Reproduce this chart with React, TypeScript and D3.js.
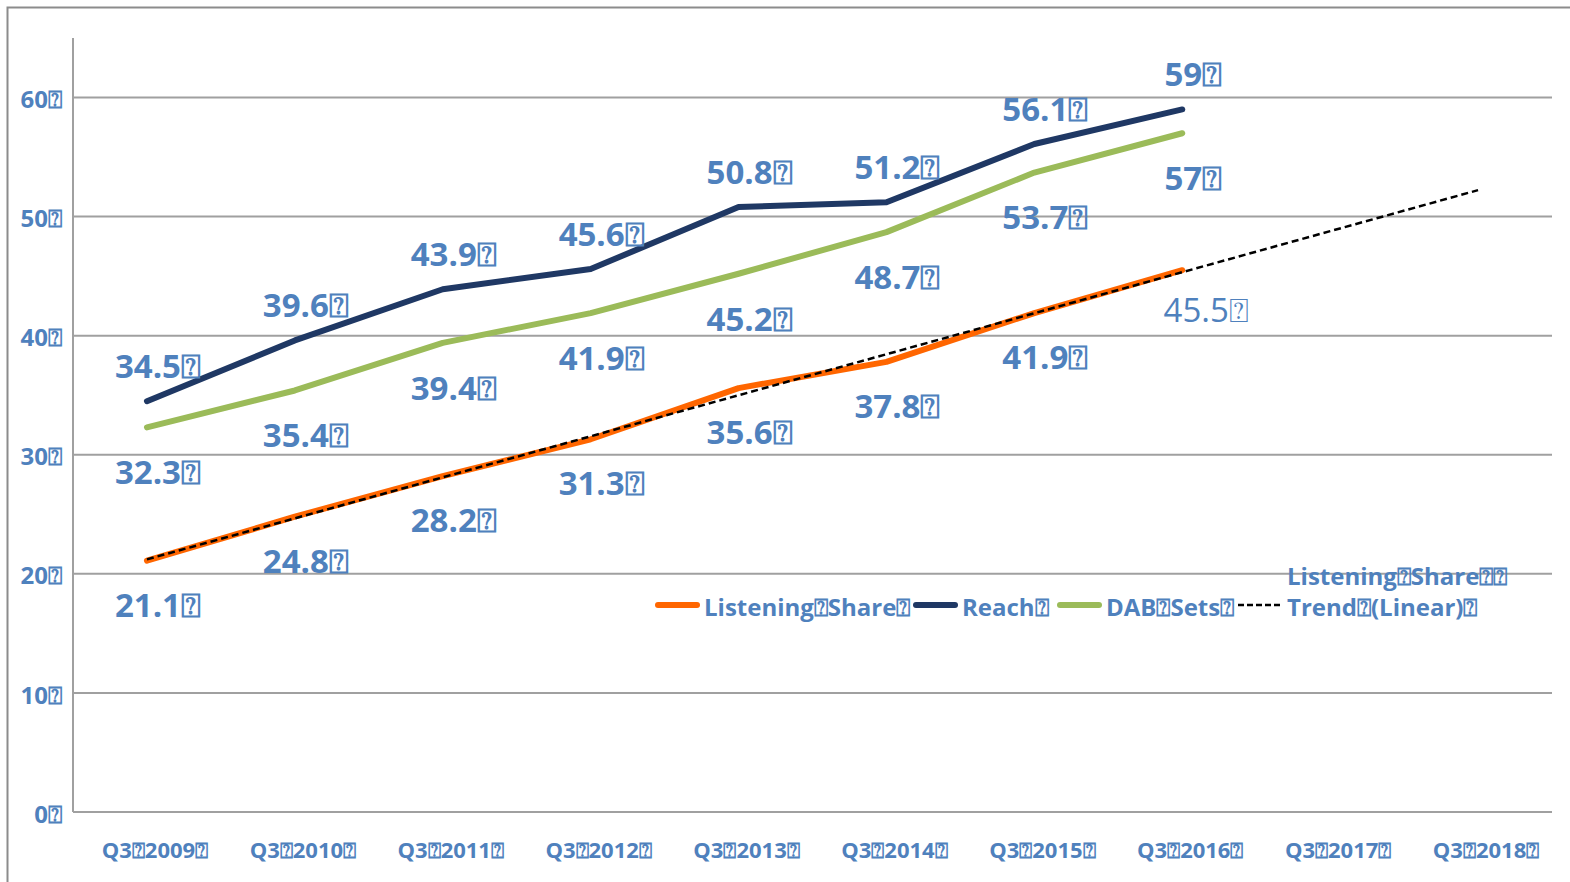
import React from 'react';
import * as d3 from 'd3';

const Q = '\u2370';

const categories = ['2009', '2010', '2011', '2012', '2013', '2014', '2015', '2016', '2017', '2018'];
const listeningShare = [21.1, 24.8, 28.2, 31.3, 35.6, 37.8, 41.9, 45.5];
const reach = [34.5, 39.6, 43.9, 45.6, 50.8, 51.2, 56.1, 59];
const dabSets = [32.3, 35.4, 39.4, 41.9, 45.2, 48.7, 53.7, 57];
const yTicks = [0, 10, 20, 30, 40, 50, 60];

const BLUE = '#4F81BD';
const FONT = '"Open Sans", sans-serif';

// linear least squares on listening share, extended over all categories
function trend(vals: number[]) {
  const mx = d3.mean(vals.map((_, i) => i)) as number;
  const my = d3.mean(vals) as number;
  let sxy = 0;
  let sxx = 0;
  vals.forEach((v, i) => {
    sxy += (i - mx) * (v - my);
    sxx += (i - mx) * (i - mx);
  });
  const slope = sxy / sxx;
  return categories.map((_, i) => my + slope * (i - mx));
}

export default function App() {
  const W = 1570;
  const H = 882;
  const left = 73;
  const right = 1552;
  const top = 38;
  const bottom = 812;

  const x = d3.scaleBand<string>().domain(categories).range([left, right]);
  const cx = (i: number) => (x(categories[i]) as number) + x.bandwidth() / 2;
  const y = d3.scaleLinear().domain([0, 65]).range([bottom, top]);

  const line = d3
    .line<number>()
    .x((_, i) => cx(i))
    .y((d) => y(d));

  const trendVals = trend(listeningShare);

  const series = [
    { name: 'Reach', vals: reach, color: '#1F3864', dy: -35 },
    { name: 'DAB Sets', vals: dabSets, color: '#9BBB59', dy: 45 },
    { name: 'Listening Share', vals: listeningShare, color: '#FF6600', dy: 44 },
  ];

  const legend = [
    { x0: 655, color: '#FF6600', text: `Listening${Q}Share${Q}` },
    { x0: 913, color: '#1F3864', text: `Reach${Q}` },
    { x0: 1057, color: '#9BBB59', text: `DAB${Q}Sets${Q}` },
  ];

  return (
    <svg
      width={W}
      height={H}
      style={{ position: 'absolute', left: 0, top: 0, background: '#fff' }}
      fontFamily={FONT}
    >
      <rect x={7.5} y={7.5} width={W} height={H} fill="none" stroke="#8c8c8c" strokeWidth={2} />

      {yTicks.map((t) => (
        <g key={t}>
          <line x1={left} x2={right} y1={y(t)} y2={y(t)} stroke="#a0a0a0" strokeWidth={2} />
          <text
            x={62}
            y={y(t) + 2}
            dy="0.36em"
            textAnchor="end"
            fontSize={24}
            fontWeight={700}
            fill={BLUE}
          >
            {`${t}${Q}`}
          </text>
        </g>
      ))}
      <line x1={left} x2={left} y1={top} y2={bottom} stroke="#a0a0a0" strokeWidth={2} />

      {categories.map((c, i) => (
        <text
          key={c}
          x={cx(i) + 8}
          y={850}
          dy="0.36em"
          textAnchor="middle"
          fontSize={22}
          fontWeight={700}
          fill={BLUE}
        >
          {`Q3${Q}${c}${Q}`}
        </text>
      ))}

      {series.map((s) => (
        <path
          key={s.name}
          d={line(s.vals) as string}
          fill="none"
          stroke={s.color}
          strokeWidth={6}
          strokeLinecap="round"
          strokeLinejoin="round"
        />
      ))}

      <path
        d={line(trendVals) as string}
        fill="none"
        stroke="#000"
        strokeWidth={2.5}
        strokeDasharray="7,4"
      />

      {series.map((s) =>
        s.vals.map((v, i) => {
          const last = s.name === 'Listening Share' && i === s.vals.length - 1;
          return (
            <text
              key={s.name + i}
              x={cx(i) + (last ? 24 : 11)}
              y={y(v) + (last ? 40 : s.dy)}
              dy="0.36em"
              textAnchor="middle"
              fontSize={33}
              fontWeight={last ? 400 : 700}
              fill={BLUE}
            >
              {`${v}${Q}`}
            </text>
          );
        })
      )}

      {legend.map((l) => (
        <g key={l.text}>
          <line
            x1={l.x0 + 3}
            x2={l.x0 + 42}
            y1={605}
            y2={605}
            stroke={l.color}
            strokeWidth={6}
            strokeLinecap="round"
          />
          <text x={l.x0 + 49} y={607} dy="0.36em" fontSize={24} fontWeight={700} fill={BLUE}>
            {l.text}
          </text>
        </g>
      ))}
      <line x1={1238} x2={1283} y1={605} y2={605} stroke="#000" strokeWidth={2.5} strokeDasharray="6,3" />
      <text x={1287} y={576} dy="0.36em" fontSize={24} fontWeight={700} fill={BLUE}>
        {`Listening${Q}Share${Q}${Q}`}
      </text>
      <text x={1287} y={607} dy="0.36em" fontSize={24} fontWeight={700} fill={BLUE}>
        {`Trend${Q}(Linear)${Q}`}
      </text>
    </svg>
  );
}
